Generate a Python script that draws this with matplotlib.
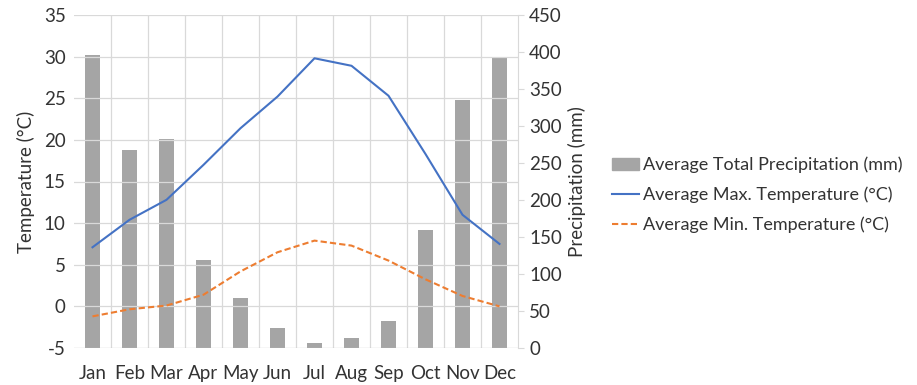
import numpy as np
import matplotlib.pyplot as plt
from matplotlib.patches import Patch
from matplotlib.lines import Line2D

plt.rcParams['font.family'] = ['Lato', 'DejaVu Sans']
plt.rcParams['axes.unicode_minus'] = False

months = ['Jan', 'Feb', 'Mar', 'Apr', 'May', 'Jun', 'Jul', 'Aug', 'Sep', 'Oct', 'Nov', 'Dec']
precip = [396, 268, 282, 119, 68, 27, 7, 14, 36, 160, 335, 393]
t_max = [7.1, 10.4, 12.8, 17.0, 21.4, 25.2, 29.8, 28.9, 25.3, 18.3, 11.0, 7.5]
t_min = [-1.2, -0.35, 0.1, 1.4, 4.2, 6.5, 7.9, 7.3, 5.5, 3.25, 1.25, 0.0]

x = np.arange(len(months))
fs = 13.5

fig = plt.figure(figsize=(9.17, 3.85), dpi=100)
ax = fig.add_axes([74 / 917, 1 - 348 / 385, (518 - 74) / 917, (348 - 15) / 385])
ax2 = ax.twinx()

# bars on the precipitation axis, drawn behind the temperature lines
ax2.bar(x, precip, width=0.4, color='#a5a5a5', zorder=2)
ax2.set_ylim(0, 450)
ax2.set_yticks(np.arange(0, 451, 50))
ax2.set_ylabel('Precipitation (mm)', fontsize=fs, color='#333333', labelpad=4)

ax.set_zorder(ax2.get_zorder() + 1)
ax.patch.set_visible(False)
ax.plot(x, t_max, color='#4472c4', lw=1.5, zorder=3)
ax.plot(x, t_min, color='#ed7d31', lw=1.5, ls=(0, (3, 1.5)), zorder=3)
ax.set_ylim(-5, 35)
ax.set_yticks(np.arange(-5, 36, 5))
ax.set_xlim(-0.5, 11.5)
ax.set_xticks(x)
ax.set_xticklabels(months)
ax.set_ylabel('Temperature (°C)', fontsize=fs, color='#333333', labelpad=6)

# excel-like grid
for v in np.arange(0, 36, 5):
    ax.axhline(v, color='#d9d9d9', lw=0.9, zorder=0)
for b in np.arange(0.5, 11.5, 1):
    ax.axvline(b, color='#d9d9d9', lw=0.9, zorder=0)
ax.axhline(-5, color='#bfbfbf', lw=0.9, zorder=1)

for a in (ax, ax2):
    for s in a.spines.values():
        s.set_visible(False)
    a.tick_params(labelsize=fs, colors='#333333', length=0)
ax2.spines['right'].set_visible(True)
ax2.spines['right'].set_color('#d9d9d9')
ax2.tick_params(axis='y', length=4, color='#d9d9d9', pad=4)
ax.tick_params(axis='x', pad=12)
ax.tick_params(axis='y', pad=6)

handles = [Patch(color='#a5a5a5'),
           Line2D([], [], color='#4472c4', lw=1.5),
           Line2D([], [], color='#ed7d31', lw=1.5, ls=(0, (3, 1.5)))]
labels = ['Average Total Precipitation (mm)',
          'Average Max. Temperature (°C)',
          'Average Min. Temperature (°C)']
fig.legend(handles, labels, loc='center left', bbox_to_anchor=(612 / 917, 1 - 195 / 385),
           frameon=False, fontsize=13, handlelength=1.5, handletextpad=0.2,
           labelspacing=0.75, labelcolor='#333333', borderpad=0, borderaxespad=0)

fig.savefig('out.png', dpi=100)
